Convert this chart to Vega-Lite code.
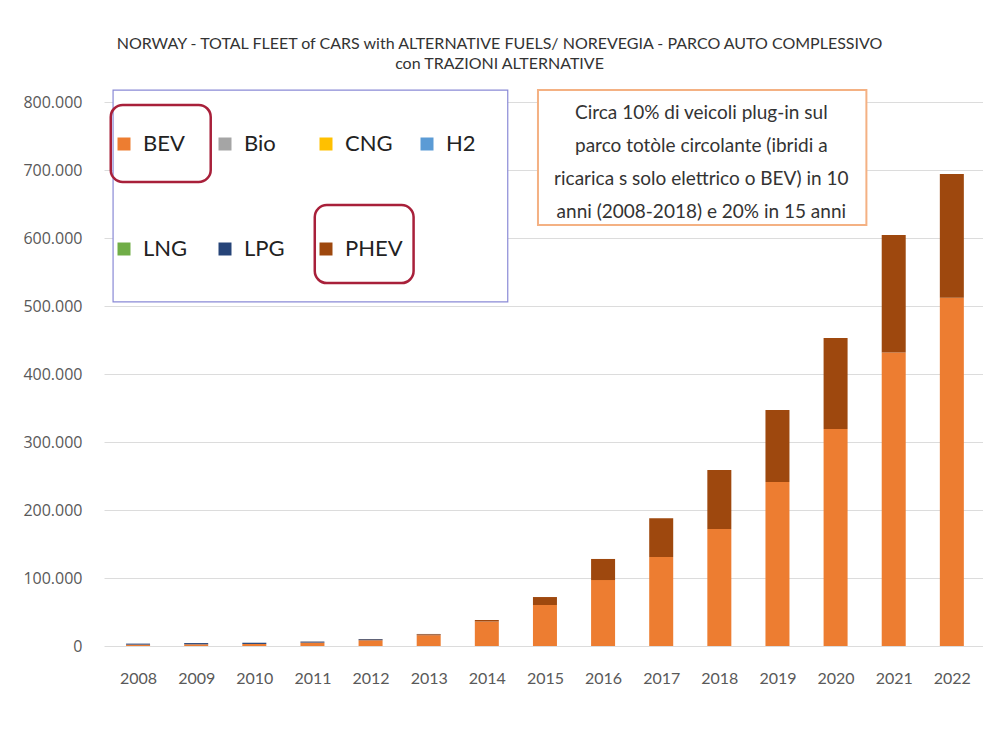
{
  "$schema": "https://vega.github.io/schema/vega-lite/v6.json",
  "autosize": {"type": "none"},
  "width": 879,
  "height": 544,
  "padding": {"left": 104, "top": 102, "right": 0, "bottom": 83},
  "background": "white",
  "config": {
    "view": {"stroke": null},
    "locale": {"number": {"decimal": ",", "thousands": ".", "grouping": [3], "currency": ["€", ""]}}
  },
  "title": {
    "text": ["NORWAY  - TOTAL FLEET of CARS with  ALTERNATIVE FUELS/ NOREVEGIA - PARCO AUTO COMPLESSIVO", "con TRAZIONI ALTERNATIVE"],
    "anchor": "middle",
    "dx": -44,
    "offset": 17,
    "font": "Lato",
    "fontSize": 16,
    "fontWeight": "normal",
    "lineHeight": 20,
    "color": "#333333"
  },
  "data": {
    "values": [
      {"year": 2008, "fuel": "BEV", "value": 2000},
      {"year": 2008, "fuel": "LPG", "value": 1500},
      {"year": 2009, "fuel": "BEV", "value": 2500},
      {"year": 2009, "fuel": "LPG", "value": 1800},
      {"year": 2010, "fuel": "BEV", "value": 3000},
      {"year": 2010, "fuel": "LPG", "value": 1800},
      {"year": 2011, "fuel": "BEV", "value": 5000},
      {"year": 2011, "fuel": "LPG", "value": 1500},
      {"year": 2011, "fuel": "PHEV", "value": 100},
      {"year": 2012, "fuel": "BEV", "value": 8500},
      {"year": 2012, "fuel": "LPG", "value": 1500},
      {"year": 2012, "fuel": "PHEV", "value": 300},
      {"year": 2013, "fuel": "BEV", "value": 16000},
      {"year": 2013, "fuel": "LPG", "value": 700},
      {"year": 2013, "fuel": "PHEV", "value": 1000},
      {"year": 2014, "fuel": "BEV", "value": 36000},
      {"year": 2014, "fuel": "PHEV", "value": 2200},
      {"year": 2015, "fuel": "BEV", "value": 60300},
      {"year": 2015, "fuel": "PHEV", "value": 11700},
      {"year": 2016, "fuel": "BEV", "value": 97000},
      {"year": 2016, "fuel": "PHEV", "value": 31000},
      {"year": 2017, "fuel": "BEV", "value": 131000},
      {"year": 2017, "fuel": "PHEV", "value": 57000},
      {"year": 2018, "fuel": "BEV", "value": 172000},
      {"year": 2018, "fuel": "PHEV", "value": 87000},
      {"year": 2019, "fuel": "BEV", "value": 241000},
      {"year": 2019, "fuel": "PHEV", "value": 106000},
      {"year": 2020, "fuel": "BEV", "value": 319000},
      {"year": 2020, "fuel": "PHEV", "value": 134000},
      {"year": 2021, "fuel": "BEV", "value": 431500},
      {"year": 2021, "fuel": "PHEV", "value": 173000},
      {"year": 2022, "fuel": "BEV", "value": 512000},
      {"year": 2022, "fuel": "PHEV", "value": 182000}
    ]
  },
  "layer": [
    {
      "mark": {"type": "bar", "size": 24},
      "encoding": {
        "x": {
          "field": "year", "type": "quantitative",
          "scale": {"domain": [2007.5, 2022.45], "nice": false, "zero": false},
          "axis": {
            "values": [2008, 2009, 2010, 2011, 2012, 2013, 2014, 2015, 2016, 2017, 2018, 2019, 2020, 2021, 2022],
            "format": "d", "title": null, "grid": false, "domain": false, "ticks": false,
            "labelFont": "Lato", "labelFontSize": 16, "labelColor": "#595959", "labelPadding": 24,
            "labelFlush": false, "labelOverlap": false
          }
        },
        "y": {
          "field": "value", "type": "quantitative", "stack": "zero",
          "scale": {"domain": [0, 800000], "nice": false},
          "axis": {
            "values": [0, 100000, 200000, 300000, 400000, 500000, 600000, 700000, 800000],
            "format": ",d", "title": null, "domain": false, "ticks": false,
            "gridColor": "#dcdcdc", "gridWidth": 1,
            "labelFont": "Open Sans", "labelFontSize": 16, "labelColor": "#595959", "labelPadding": 22
          }
        },
        "color": {
          "field": "fuel", "type": "nominal",
          "scale": {
            "domain": ["BEV", "Bio", "CNG", "H2", "LNG", "LPG", "PHEV"],
            "range": ["#ED7D31", "#A5A5A5", "#FFC000", "#5B9BD5", "#70AD47", "#264478", "#9E480E"]
          },
          "legend": {
            "title": null, "orient": "none", "legendX": 9, "legendY": 31,
            "direction": "horizontal",
            "columns": 4, "gridAlign": "all", "columnPadding": 13, "rowPadding": 83,
            "symbolType": "square", "symbolSize": 169, "symbolStrokeWidth": 0,
            "labelFont": "Lato", "labelFontSize": 22, "labelColor": "#222222", "labelOffset": 8,
            "padding": 0
          }
        },
        "order": {"field": "fuel", "sort": "ascending"}
      }
    },
    {
      "data": {"values": [{}]},
      "mark": {"type": "rect", "fill": "white", "stroke": "#8a8ad6", "strokeWidth": 1.2},
      "encoding": {
        "x": {"datum": 2007.57, "type": "quantitative"},
        "x2": {"datum": 2014.36},
        "y": {"datum": 817600, "type": "quantitative"},
        "y2": {"datum": 506000}
      }
    },
    {
      "data": {"values": [{}]},
      "mark": {"type": "rect", "fill": null, "stroke": "#A8203A", "strokeWidth": 2.5, "cornerRadius": 12},
      "encoding": {
        "x": {"datum": 2007.53, "type": "quantitative"},
        "x2": {"datum": 2009.25},
        "y": {"datum": 795600, "type": "quantitative"},
        "y2": {"datum": 682400}
      }
    },
    {
      "data": {"values": [{}]},
      "mark": {"type": "rect", "fill": null, "stroke": "#A8203A", "strokeWidth": 2.5, "cornerRadius": 12},
      "encoding": {
        "x": {"datum": 2011.04, "type": "quantitative"},
        "x2": {"datum": 2012.74},
        "y": {"datum": 648500, "type": "quantitative"},
        "y2": {"datum": 533800}
      }
    },
    {
      "data": {"values": [{}]},
      "mark": {"type": "rect", "fill": "white", "stroke": "#F4B183", "strokeWidth": 2},
      "encoding": {
        "x": {"datum": 2014.88, "type": "quantitative"},
        "x2": {"datum": 2020.53},
        "y": {"datum": 817600, "type": "quantitative"},
        "y2": {"datum": 619100}
      }
    },
    {
      "data": {"values": [{"note": ["Circa 10% di veicoli plug-in sul", "parco totòle circolante (ibridi a", "ricarica s solo elettrico o BEV) in 10", "anni (2008-2018) e 20% in 15 anni"]}]},
      "mark": {"type": "text", "font": "Lato", "fontSize": 19, "lineHeight": 33, "align": "center", "baseline": "middle", "color": "#333333"},
      "encoding": {
        "x": {"datum": 2017.69, "type": "quantitative"},
        "y": {"datum": 783800, "type": "quantitative"},
        "text": {"field": "note"}
      }
    }
  ]
}
